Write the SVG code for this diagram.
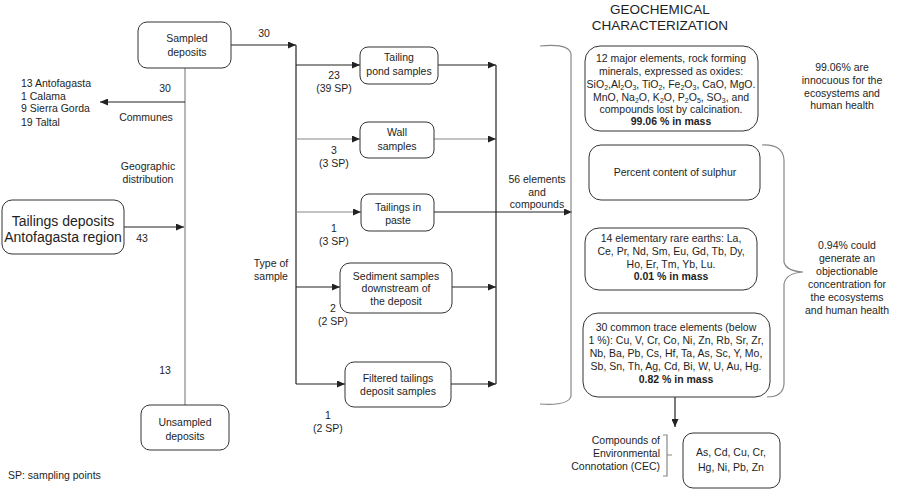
<svg xmlns="http://www.w3.org/2000/svg" width="897" height="490" viewBox="0 0 897 490">
<defs>
<marker id="ah" markerWidth="8" markerHeight="7" refX="8" refY="3.5" orient="auto" markerUnits="userSpaceOnUse"><path d="M0,0 L8,3.5 L0,7 z" fill="#222"/></marker>
</defs>
<style>
text{font-family:"Liberation Sans",Arial,sans-serif;font-size:10.5px;fill:#1e1e1e}
.m{text-anchor:middle}
.e{text-anchor:end}
.b{font-weight:bold}
.t{font-size:13.5px}
.big{font-size:14px}
.box{fill:#fff;stroke:#333;stroke-width:1}
.k{stroke:#222;stroke-width:1.2;fill:none}
.g{stroke:#888;stroke-width:1.2;fill:none}
.a{marker-end:url(#ah)}
.sub{font-size:7px}
</style>
<rect width="897" height="490" fill="#fff"/>

<g id="connectors">
<line class="g" x1="185" y1="68" x2="185" y2="405"/>
<line class="k a" x1="185" y1="102" x2="100" y2="102"/>
<line class="k a" x1="231" y1="45" x2="296" y2="45"/>
<line class="k a" x1="124" y1="227" x2="184" y2="227"/>
<line class="k" x1="296" y1="45" x2="296" y2="384"/>
<line class="k a" x1="296" y1="65" x2="360" y2="65"/>
<line class="g a" x1="296" y1="139" x2="360" y2="139"/>
<line class="g a" x1="296" y1="212" x2="361" y2="212"/>
<line class="k a" x1="296" y1="287" x2="340" y2="287"/>
<line class="k a" x1="296" y1="384" x2="345" y2="384"/>
<line class="k a" x1="438" y1="65" x2="496" y2="65"/>
<line class="g a" x1="434" y1="139" x2="496" y2="139"/>
<line class="k a" x1="452" y1="287" x2="496" y2="287"/>
<line class="k a" x1="451" y1="384" x2="496" y2="384"/>
<line class="k" x1="496" y1="65" x2="496" y2="384"/>
<line class="k a" x1="434" y1="212" x2="572" y2="212"/>
<path class="g" d="M540,46 Q569,43 571,54 L571,396 Q569,406 540,404"/>
<path class="g" d="M762,145 Q783,144 784,160 L784,262 Q786,271 803,272 Q786,273 784,284 L784,384 Q783,397 767,397"/>
<line class="k a" x1="675" y1="397" x2="675" y2="427"/>
<path class="g" d="M663,435 L667,435 L667,476 L663,476 M667,455 L672,455"/>
</g>

<g id="sampled-deposits">
<rect class="box" x="138" y="22" width="93" height="46" rx="9"/>
<text class="m" x="187" y="42">Sampled</text>
<text class="m" x="187" y="56">deposits</text>
</g>
<g id="unsampled-deposits">
<rect class="box" x="141" y="405" width="88" height="45" rx="9"/>
<text class="m" x="185" y="426">Unsampled</text>
<text class="m" x="185" y="440">deposits</text>
</g>
<g id="tailings-deposits">
<rect class="box" x="2" y="200" width="122" height="54" rx="10"/>
<text class="m big" x="63" y="226">Tailings deposits</text>
<text class="m big" x="63" y="242">Antofagasta region</text>
</g>
<g id="communes-list">
<text x="21" y="87">13 Antofagasta</text>
<text x="21" y="100">1 Calama</text>
<text x="21" y="112">9 Sierra Gorda</text>
<text x="21" y="126">19 Taltal</text>
</g>
<g id="labels-left">
<text class="m" x="165" y="92">30</text>
<text class="m" x="146" y="121">Communes</text>
<text class="m" x="148" y="170">Geographic</text>
<text class="m" x="148" y="183">distribution</text>
<text class="m" x="142" y="242">43</text>
<text class="m" x="165" y="374">13</text>
<text class="m" x="264" y="37">30</text>
<text class="m" x="271" y="267">Type of</text>
<text class="m" x="271" y="280">sample</text>
<text x="8" y="479">SP: sampling points</text>
</g>
<g id="tailing-pond">
<rect class="box" x="360" y="47" width="78" height="37" rx="8"/>
<text class="m" x="399" y="61">Tailing</text>
<text class="m" x="399" y="75">pond samples</text>
<text class="m" x="334" y="79">23</text>
<text class="m" x="334" y="92">(39 SP)</text>
</g>
<g id="wall">
<rect class="box" x="360" y="122" width="74" height="36" rx="8"/>
<text class="m" x="397" y="136">Wall</text>
<text class="m" x="397" y="150">samples</text>
<text class="m" x="334" y="154">3</text>
<text class="m" x="334" y="167">(3 SP)</text>
</g>
<g id="paste">
<rect class="box" x="361" y="194" width="73" height="37" rx="8"/>
<text class="m" x="398" y="211">Tailings in</text>
<text class="m" x="398" y="224">paste</text>
<text class="m" x="334" y="232">1</text>
<text class="m" x="334" y="245">(3 SP)</text>
</g>
<g id="sediment">
<rect class="box" x="340" y="263" width="112" height="50" rx="10"/>
<text class="m" x="396" y="280">Sediment samples</text>
<text class="m" x="396" y="292">downstream of</text>
<text class="m" x="396" y="305">the deposit</text>
<text class="m" x="333" y="312">2</text>
<text class="m" x="333" y="325">(2 SP)</text>
</g>
<g id="filtered">
<rect class="box" x="345" y="362" width="106" height="45" rx="9"/>
<text class="m" x="398" y="382">Filtered tailings</text>
<text class="m" x="398" y="395">deposit samples</text>
<text class="m" x="328" y="419">1</text>
<text class="m" x="328" y="432">(2 SP)</text>
</g>
<g id="elements-label">
<text class="m" x="537" y="183">56 elements</text>
<text class="m" x="537" y="196">and</text>
<text class="m" x="537" y="208">compounds</text>
</g>
<g id="title">
<text class="m t" x="660" y="14">GEOCHEMICAL</text>
<text class="m t" x="660" y="30">CHARACTERIZATION</text>
</g>
<g id="major-elements">
<rect class="box" x="585" y="46" width="173" height="85" rx="15"/>
<text class="m" x="671" y="62">12 major elements, rock forming</text>
<text class="m" x="671" y="75">minerals, expressed as oxides:</text>
<text class="m" x="671" y="88">SiO<tspan class="sub" dy="2">2</tspan><tspan dy="-2">,Al</tspan><tspan class="sub" dy="2">2</tspan><tspan dy="-2">O</tspan><tspan class="sub" dy="2">3</tspan><tspan dy="-2">, TiO</tspan><tspan class="sub" dy="2">2</tspan><tspan dy="-2">, Fe</tspan><tspan class="sub" dy="2">2</tspan><tspan dy="-2">O</tspan><tspan class="sub" dy="2">3</tspan><tspan dy="-2">, CaO, MgO.</tspan></text>
<text class="m" x="671" y="101">MnO, Na<tspan class="sub" dy="2">2</tspan><tspan dy="-2">O, K</tspan><tspan class="sub" dy="2">2</tspan><tspan dy="-2">O, P</tspan><tspan class="sub" dy="2">2</tspan><tspan dy="-2">O</tspan><tspan class="sub" dy="2">5</tspan><tspan dy="-2">, SO</tspan><tspan class="sub" dy="2">3</tspan><tspan dy="-2">, and</tspan></text>
<text class="m" x="671" y="113">compounds lost by calcination.</text>
<text class="m b" x="671" y="125">99.06 % in mass</text>
</g>
<g id="innocuous-note">
<text class="m" x="842" y="71">99.06% are</text>
<text class="m" x="842" y="84">innocuous for the</text>
<text class="m" x="842" y="97">ecosystems and</text>
<text class="m" x="842" y="109">human health</text>
</g>
<g id="sulphur">
<rect class="box" x="589" y="145" width="171" height="55" rx="12"/>
<text class="m" x="675" y="176">Percent content of sulphur</text>
</g>
<g id="rare-earths">
<rect class="box" x="585" y="228" width="172" height="62" rx="14"/>
<text class="m" x="671" y="242">14 elementary rare earths: La,</text>
<text class="m" x="671" y="255">Ce, Pr, Nd, Sm, Eu, Gd, Tb, Dy,</text>
<text class="m" x="671" y="268">Ho, Er, Tm, Yb, Lu.</text>
<text class="m b" x="671" y="280">0.01 % in mass</text>
</g>
<g id="trace-elements">
<rect class="box" x="583" y="313" width="187" height="84" rx="15"/>
<text class="m" x="676" y="331">30 common trace elements (below</text>
<text class="m" x="676" y="344">1 %): Cu, V, Cr, Co, Ni, Zn, Rb, Sr, Zr,</text>
<text class="m" x="676" y="357">Nb, Ba, Pb, Cs, Hf, Ta, As, Sc, Y, Mo,</text>
<text class="m" x="676" y="370">Sb, Sn, Th, Ag, Cd, Bi, W, U, Au, Hg.</text>
<text class="m b" x="676" y="383">0.82 % in mass</text>
</g>
<g id="objectionable-note">
<text class="m" x="847" y="249">0.94% could</text>
<text class="m" x="847" y="262">generate an</text>
<text class="m" x="847" y="275">objectionable</text>
<text class="m" x="847" y="288">concentration for</text>
<text class="m" x="847" y="301">the ecosystems</text>
<text class="m" x="847" y="314">and human health</text>
</g>
<g id="cec-label">
<text class="e" x="660" y="444">Compounds of</text>
<text class="e" x="660" y="457">Environmental</text>
<text class="e" x="660" y="470">Connotation (CEC)</text>
</g>
<g id="cec-box">
<rect class="box" x="683" y="433" width="97" height="55" rx="10"/>
<text class="m" x="731" y="456">As, Cd, Cu, Cr,</text>
<text class="m" x="731" y="471">Hg, Ni, Pb, Zn</text>
</g>
</svg>
